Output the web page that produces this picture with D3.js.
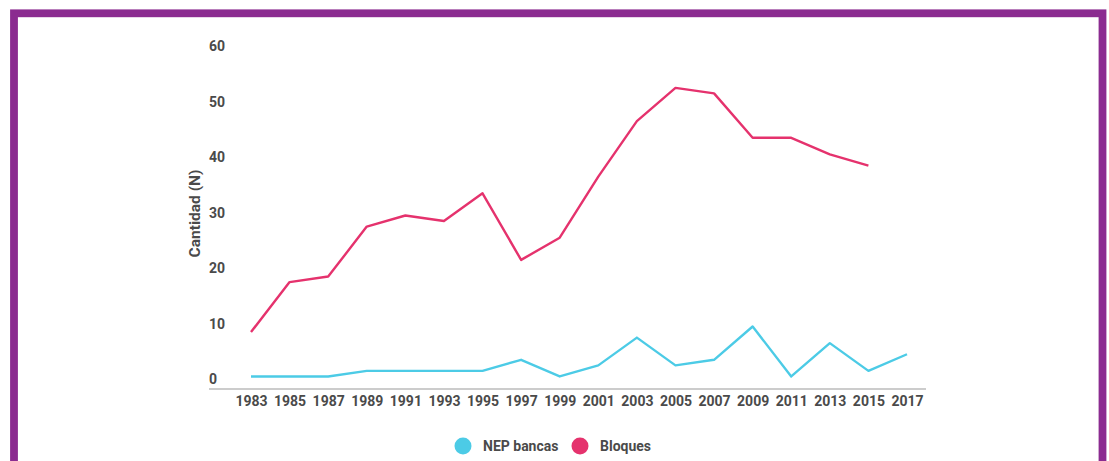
<!DOCTYPE html>
<html>
<head>
<meta charset="utf-8">
<script src="https://cdn.jsdelivr.net/npm/d3@7"></script>
<style>
  html, body { margin: 0; padding: 0; background: #fff; }
  svg { display: block; }
  text { font-family: Roboto, "Noto Sans", sans-serif; font-weight: 700; fill: #4a4a4a; }
</style>
</head>
<body>
<svg id="chart" width="1109" height="461"></svg>
<script>
// Años de la serie
const years = [1983, 1985, 1987, 1989, 1991, 1993, 1995, 1997, 1999, 2001,
               2003, 2005, 2007, 2009, 2011, 2013, 2015, 2017];
// NEP bancas
const nepBancas = [1, 1, 1, 2, 2, 2, 2, 4, 1, 3, 8, 3, 4, 10, 1, 7, 2, 5];
// Bloques (sin dato para 2017)
const bloques = [9, 18, 19, 28, 30, 29, 34, 22, 26, 37, 47, 53, 52, 44, 44, 41, 39, null];
// Marcas del eje vertical
const yTicks = [0, 10, 20, 30, 40, 50, 60];

const seriesNames = ["NEP bancas", "Bloques"];
const seriesColors = ["#4ccbe6", "#e5326d"];

const svg = d3.select("#chart");

// Marco violeta
svg.append("rect")
  .attr("x", 14).attr("y", 13.3)
  .attr("width", 1088.5).attr("height", 520)
  .attr("fill", "none")
  .attr("stroke", "#8b2b90")
  .attr("stroke-width", 7.8);

const x = d3.scaleLinear().domain([1983, 2017]).range([251, 907]);
const y = d3.scaleLinear().domain([0, 60]).range([382, 49]);

// Etiquetas del eje Y (alineadas a la izquierda)
svg.append("g")
  .selectAll("text")
  .data(yTicks)
  .join("text")
  .attr("x", 209)
  .attr("y", d => y(d) - 2.5)
  .attr("dy", "0.35em")
  .attr("font-size", 14)
  .text(d => d);

// Título del eje Y
svg.append("text")
  .attr("transform", `translate(200, ${y(30) - 2}) rotate(-90)`)
  .attr("text-anchor", "middle")
  .attr("font-size", 15.5)
  .text("Cantidad (N)");

// Eje X
const xAxis = d3.axisBottom(x)
  .tickValues(years)
  .tickFormat(d3.format("d"))
  .tickSize(0)
  .tickPadding(7);

const gx = svg.append("g")
  .attr("transform", "translate(0, 389)")
  .call(xAxis);
gx.select(".domain").remove();
gx.append("line")
  .attr("x1", 209).attr("x2", 926)
  .attr("y1", 0).attr("y2", 0)
  .attr("stroke", "#9a9a9a")
  .attr("stroke-width", 1.2);
gx.selectAll("text")
  .attr("font-size", 14)
  .attr("font-family", "Roboto, 'Noto Sans', sans-serif")
  .attr("font-weight", 700)
  .attr("fill", "#4a4a4a");

// Líneas
const line = d3.line()
  .defined(d => d.v != null)
  .x(d => x(d.year))
  .y(d => y(d.v));

[nepBancas, bloques].forEach((vals, i) => {
  svg.append("path")
    .datum(years.map((yr, j) => ({ year: yr, v: vals[j] })))
    .attr("fill", "none")
    .attr("stroke", seriesColors[i])
    .attr("stroke-width", 2.4)
    .attr("stroke-linejoin", "round")
    .attr("d", line);
});

// Leyenda
const legendPos = [463, 580];
const legend = svg.append("g");
seriesNames.forEach((name, i) => {
  legend.append("circle")
    .attr("cx", legendPos[i]).attr("cy", 446)
    .attr("r", 8.5)
    .attr("fill", seriesColors[i]);
  legend.append("text")
    .attr("x", legendPos[i] + 20)
    .attr("y", 446)
    .attr("dy", "0.35em")
    .attr("font-size", 14)
    .text(name);
});
</script>
</body>
</html>
